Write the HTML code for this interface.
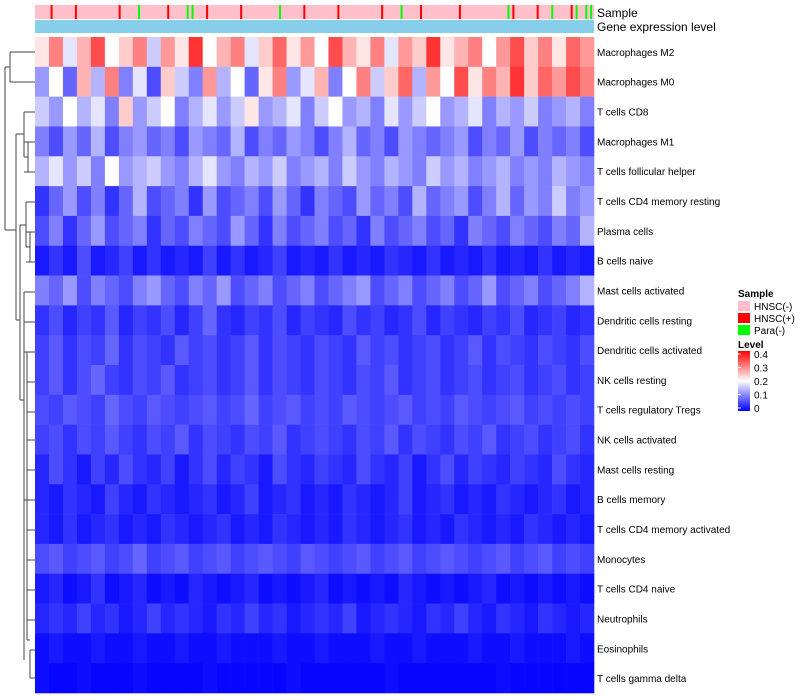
<!DOCTYPE html>
<html><head><meta charset="utf-8">
<style>
body{margin:0;background:#fff;font-family:"Liberation Sans",sans-serif;}
svg{display:block}
text{font-family:"Liberation Sans",sans-serif;}
</style></head>
<body>
<svg id="chart" width="800" height="700" viewBox="0 0 800 700">
<g id="dendro" fill="none" stroke="#444" stroke-width="1">
<path d="M10,52 H36 M10,82 H36 M10,52 V82 M5,67 H10 M5,67 V230 M5,230 H16"/>
<path d="M24,112 H36 M24,142 H36 M24,172 H36 M28,142 V172 M28,157 H24 M24,112 V157 M16,134 H24 M16,134 V320 M16,320 H20"/>
<path d="M26,202 H36 M26,232 H36 M26,262 H36 M30,232 V262 M30,247 H26 M26,202 V247 M20,225 H26 M20,225 V400 M20,400 H24"/>
<path d="M24,292 H36 M24,322 H36 M24,292 V322 M24,310 V660 M24,352 H36 M27,382 H36 M27,412 H36 M27,440 H36 M27,470 H36 M27,500 H36 M27,530 H36 M27,560 H36 M27,590 H36 M27,620 H36 M30,650 H36 M30,678 H36 M27,352 V640 M30,650 V678 M27,640 H30 M24,500 H27"/>
</g>
<g id="sampleBar"></g>
<rect x="35" y="20" width="559" height="13" fill="#87ceeb"/>
<text x="597" y="17" font-size="12" fill="#000">Sample</text>
<text x="597" y="31" font-size="12" fill="#000">Gene expression level</text>
<g id="cells"></g>
<g id="rowLabels"></g>
<g id="legend">
<text x="738" y="297" font-size="10" font-weight="bold">Sample</text>
<rect x="738" y="301" width="12" height="10" fill="#ffc0cb"/>
<text x="754" y="310" font-size="10">HNSC(-)</text>
<rect x="738" y="313" width="12" height="10" fill="#ff0000"/>
<text x="754" y="322" font-size="10">HNSC(+)</text>
<rect x="738" y="325" width="12" height="10" fill="#00ff00"/>
<text x="754" y="334" font-size="10">Para(-)</text>
<text x="738" y="348" font-size="10" font-weight="bold">Level</text>
<defs><linearGradient id="lg" x1="0" y1="1" x2="0" y2="0"><stop offset="0" stop-color="#0000ff"/><stop offset="0.5" stop-color="#ffffff"/><stop offset="1" stop-color="#ff0000"/></linearGradient></defs>
<rect x="738" y="351" width="12" height="60" fill="url(#lg)"/>
<g id="legendTicks"></g>
</g>
</svg>
<script>
const rowNames=["Macrophages M2","Macrophages M0","T cells CD8","Macrophages M1","T cells follicular helper","T cells CD4 memory resting","Plasma cells","B cells naive","Mast cells activated","Dendritic cells resting","Dendritic cells activated","NK cells resting","T cells regulatory  Tregs","NK cells activated","Mast cells resting","B cells memory","T cells CD4 memory activated","Monocytes","T cells CD4 naive","Neutrophils","Eosinophils","T cells gamma delta"];
const r0=[.22,.3,.18,.26,.34,.2,.24,.3,.16,.28,.22,.36,.2,.26,.3,.18,.24,.32,.22,.28,.2,.34,.26,.22,.3,.18,.28,.24,.36,.22,.26,.3,.2,.28,.34,.24,.3,.22,.32,.28];
const r1=[.12,.2,.08,.26,.14,.3,.1,.18,.06,.24,.16,.1,.28,.14,.2,.08,.22,.3,.12,.18,.26,.1,.2,.3,.16,.24,.32,.14,.28,.2,.34,.22,.3,.26,.36,.24,.32,.28,.34,.3];
const r2=[.16,.12,.2,.14,.18,.1,.24,.12,.16,.2,.1,.14,.18,.12,.16,.22,.12,.14,.18,.1,.16,.2,.12,.14,.1,.18,.12,.16,.2,.12,.14,.18,.1,.14,.12,.16,.1,.12,.14,.1];
const r3=[.1,.06,.12,.08,.14,.06,.1,.12,.08,.1,.06,.12,.1,.08,.14,.06,.1,.08,.12,.1,.06,.1,.14,.08,.1,.06,.12,.1,.08,.1,.12,.06,.1,.08,.12,.06,.1,.08,.1,.06];
const r4=[.14,.18,.12,.16,.1,.2,.12,.14,.16,.12,.1,.14,.18,.12,.1,.14,.12,.16,.1,.12,.14,.1,.16,.12,.1,.14,.12,.1,.16,.12,.14,.1,.12,.14,.1,.12,.1,.14,.12,.1];
const r5=[.04,.08,.12,.06,.1,.04,.08,.14,.06,.08,.1,.04,.12,.06,.08,.1,.06,.12,.08,.04,.1,.08,.06,.12,.08,.1,.06,.14,.08,.1,.12,.06,.1,.14,.08,.12,.1,.16,.1,.12];
const r6=[.06,.1,.04,.08,.12,.06,.08,.1,.04,.08,.06,.1,.08,.06,.12,.08,.04,.1,.06,.08,.1,.06,.08,.04,.1,.06,.08,.1,.06,.08,.04,.1,.08,.06,.1,.08,.06,.1,.08,.14];
const r7=[.02,.04,.02,.06,.02,.03,.05,.02,.04,.02,.03,.02,.05,.02,.04,.02,.03,.05,.02,.03,.02,.04,.02,.03,.02,.04,.03,.02,.04,.02,.03,.02,.04,.02,.03,.02,.04,.02,.03,.02];
const r8=[.1,.08,.12,.06,.1,.08,.06,.1,.12,.08,.06,.1,.08,.12,.06,.08,.1,.06,.08,.1,.06,.08,.1,.12,.06,.08,.1,.06,.08,.1,.06,.08,.12,.06,.08,.1,.06,.08,.1,.14];
const r9=[.04,.06,.03,.05,.04,.07,.03,.05,.04,.06,.03,.05,.08,.04,.03,.05,.04,.06,.03,.05,.04,.03,.06,.04,.05,.03,.04,.06,.03,.05,.04,.03,.05,.04,.06,.03,.04,.05,.03,.04];
const r10=[.05,.07,.04,.06,.05,.08,.04,.06,.05,.04,.07,.05,.06,.04,.05,.07,.04,.06,.05,.04,.06,.05,.04,.07,.05,.06,.04,.05,.06,.04,.05,.07,.04,.06,.05,.04,.06,.05,.04,.06];
const r11=[.05,.07,.04,.06,.08,.05,.04,.06,.05,.07,.04,.05,.06,.04,.05,.07,.04,.06,.05,.04,.06,.05,.04,.06,.05,.07,.04,.05,.06,.04,.05,.06,.04,.05,.06,.04,.05,.06,.04,.05];
const r12=[.06,.05,.07,.06,.05,.08,.06,.05,.07,.06,.05,.06,.07,.05,.06,.08,.05,.06,.07,.05,.06,.05,.07,.06,.05,.06,.07,.05,.06,.05,.07,.06,.05,.06,.07,.05,.06,.05,.06,.05];
const r13=[.05,.06,.04,.06,.05,.07,.05,.04,.06,.05,.07,.04,.06,.05,.04,.06,.05,.07,.04,.05,.06,.05,.04,.06,.05,.07,.04,.06,.05,.04,.06,.05,.07,.04,.05,.06,.04,.05,.06,.04];
const r14=[.03,.06,.04,.02,.05,.03,.06,.04,.03,.05,.02,.04,.06,.03,.05,.04,.02,.06,.04,.03,.05,.04,.03,.06,.04,.03,.05,.02,.04,.06,.03,.05,.04,.03,.05,.04,.03,.06,.04,.03];
const r15=[.03,.02,.04,.03,.02,.05,.03,.02,.04,.03,.02,.03,.04,.02,.03,.05,.02,.03,.04,.02,.03,.02,.04,.03,.02,.03,.05,.02,.03,.04,.02,.03,.02,.04,.03,.02,.03,.04,.02,.03];
const r16=[.03,.02,.04,.02,.03,.04,.02,.03,.02,.04,.03,.02,.03,.04,.02,.03,.02,.04,.03,.02,.03,.02,.04,.03,.02,.03,.04,.02,.03,.02,.04,.03,.02,.03,.02,.04,.03,.02,.03,.02];
const r17=[.06,.07,.05,.06,.07,.05,.06,.08,.05,.06,.07,.05,.06,.07,.05,.06,.07,.06,.05,.07,.06,.05,.06,.07,.05,.06,.07,.05,.06,.07,.06,.05,.06,.07,.05,.06,.07,.05,.06,.05];
const r18=[.02,.03,.01,.02,.04,.01,.02,.03,.01,.02,.01,.03,.02,.01,.02,.03,.01,.02,.01,.02,.03,.01,.02,.01,.02,.01,.03,.02,.01,.02,.01,.02,.03,.01,.02,.01,.02,.01,.02,.01];
const r19=[.03,.04,.03,.05,.03,.04,.02,.03,.05,.03,.04,.03,.02,.04,.03,.05,.03,.04,.02,.03,.04,.03,.05,.02,.03,.04,.03,.02,.04,.03,.05,.03,.02,.04,.03,.02,.04,.03,.02,.03];
const r20=[.01,.02,.01,.01,.02,.01,.01,.02,.01,.01,.02,.01,.01,.02,.01,.01,.01,.02,.01,.01,.02,.01,.01,.01,.02,.01,.01,.02,.01,.01,.01,.02,.01,.01,.02,.01,.01,.01,.02,.01];
const r21=[.01,.005,.005,.01,.005,.005,.005,.01,.005,.005,.005,.005,.01,.005,.005,.005,.005,.005,.01,.005,.005,.005,.005,.005,.005,.01,.005,.005,.005,.005,.005,.005,.005,.01,.005,.005,.005,.005,.005,.005];
const rowValues=[r0,r1,r2,r3,r4,r5,r6,r7,r8,r9,r10,r11,r12,r13,r14,r15,r16,r17,r18,r19,r20,r21];
const sampleStr="PPPRPPPPRPPPPPPPPRPPPGPPPPPRPPPGGPPRPPPPPPRPPPPPPPGPPPPRPPPPPPRPPPPPPPPRPPPGPPPRPPPPPPPRPPPPPPPPPGRPPPPRPPGPPPRGPGG";
const levelTicks=[0,0.1,0.2,0.3,0.4];

const NS="http://www.w3.org/2000/svg";
const X0=35,X1=594,Y0=37,Y1=693,VMAX=0.4;
function xCol(i,n){return X0+(X1-X0)*i/n;}
function yRow(i){return Y0+(Y1-Y0)*i/rowValues.length;}
function color(v){
  const t=Math.max(0,Math.min(1,v/VMAX));
  let r,g,b;
  if(t<0.5){const s=t/0.5;r=Math.round(255*s);g=Math.round(255*s);b=255;}
  else{const s=(t-0.5)/0.5;r=255;g=Math.round(255*(1-s));b=Math.round(255*(1-s));}
  return `rgb(${r},${g},${b})`;
}
const cells=document.getElementById('cells');
rowValues.forEach((row,ri)=>{
  row.forEach((v,ci)=>{
    const r=document.createElementNS(NS,'rect');
    const x=xCol(ci,row.length),x2=xCol(ci+1,row.length);
    r.setAttribute('x',x);r.setAttribute('y',yRow(ri));
    r.setAttribute('width',x2-x+0.3);r.setAttribute('height',yRow(ri+1)-yRow(ri)+0.3);
    r.setAttribute('fill',color(v));
    
    
    cells.appendChild(r);
  });
  const t=document.createElementNS(NS,'text');
  t.setAttribute('x',597);t.setAttribute('y',(yRow(ri)+yRow(ri+1))/2+4);
  t.setAttribute('font-size','10');
  t.textContent=rowNames[ri];
  
  
  document.getElementById('rowLabels').appendChild(t);
});
const sb=document.getElementById('sampleBar');
const sc={P:'#ffc0cb',R:'#ff0000',G:'#00ff00'};
for(let i=0;i<sampleStr.length;i++){
  const r=document.createElementNS(NS,'rect');
  const x=xCol(i,sampleStr.length),x2=xCol(i+1,sampleStr.length);
  const w=sampleStr[i]==='P'?x2-x+0.3:2;
  r.setAttribute('x',sampleStr[i]==='P'?x:x+1);r.setAttribute('y',5);
  r.setAttribute('width',w);r.setAttribute('height',14);
  r.setAttribute('fill',sc[sampleStr[i]]);
  
  
  if(sampleStr[i]!=='P'){const bg=document.createElementNS(NS,'rect');bg.setAttribute('x',x);bg.setAttribute('y',5);bg.setAttribute('width',x2-x+0.3);bg.setAttribute('height',14);bg.setAttribute('fill',sc.P);
  
  
  sb.appendChild(bg);}
  sb.appendChild(r);
}
const lt=document.getElementById('legendTicks');
levelTicks.forEach(v=>{
  const y=408-(v/VMAX)*54;
  const t=document.createElementNS(NS,'text');
  t.setAttribute('x',754);t.setAttribute('y',y+4);t.setAttribute('font-size','10');
  t.textContent=String(v);
  
  
  lt.appendChild(t);
  const l=document.createElementNS(NS,'line');
  l.setAttribute('x1',738);l.setAttribute('x2',741);l.setAttribute('y1',y);l.setAttribute('y2',y);l.setAttribute('stroke','#fff');
  
  
  lt.appendChild(l);
});
</script>
</body></html>
